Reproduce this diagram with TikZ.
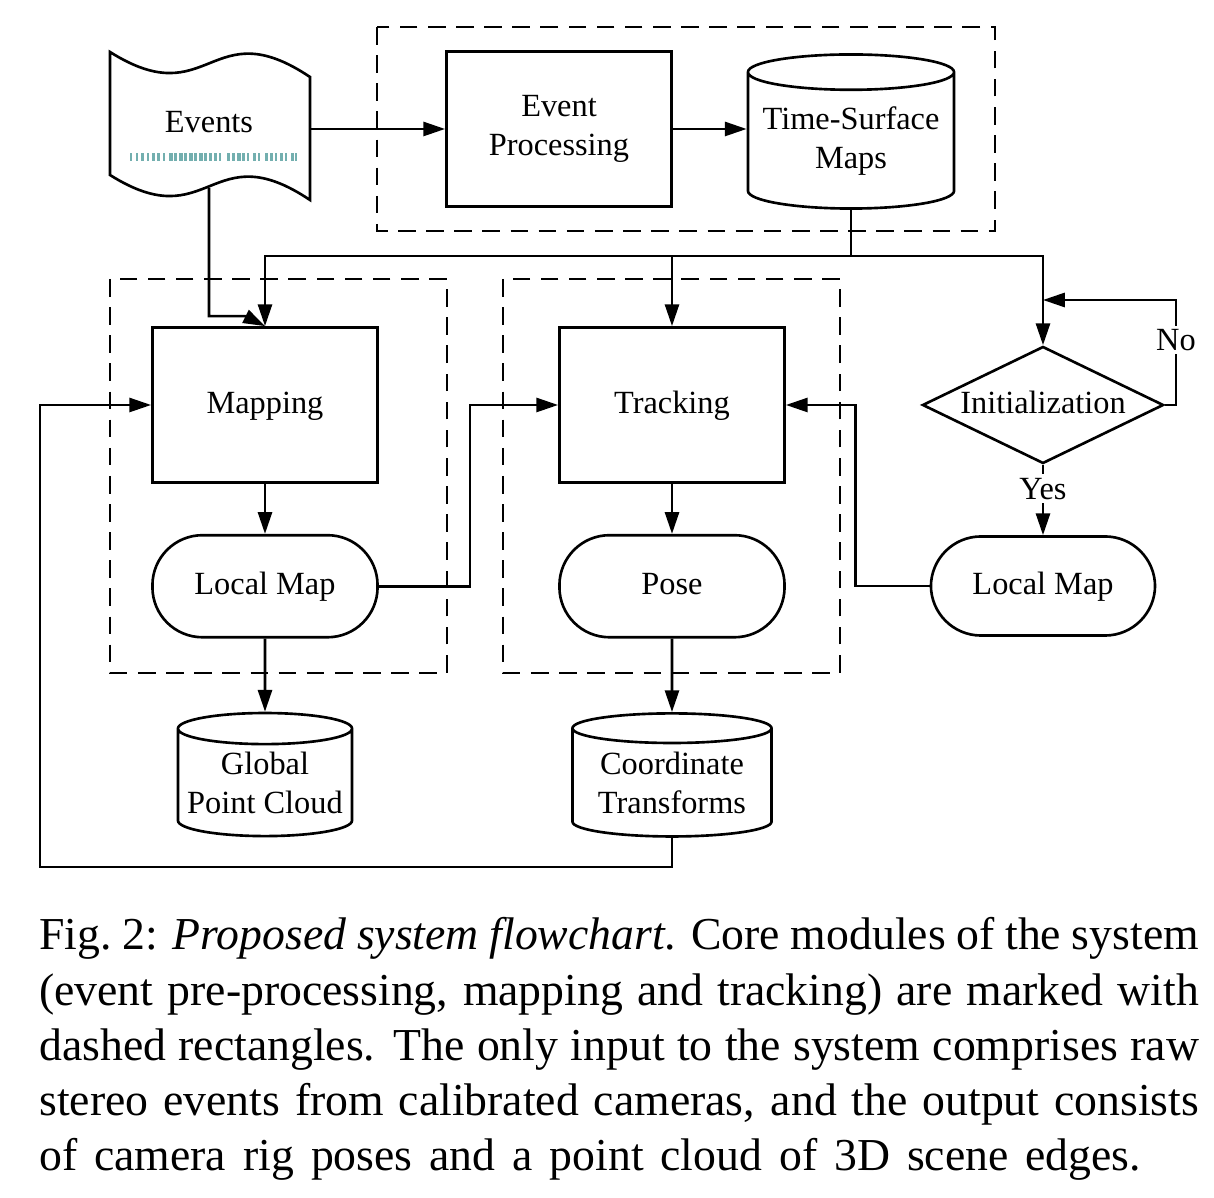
\documentclass[tikz,border=0pt]{standalone}
\usepackage{fontspec}
\setmainfont{Liberation Serif}
\usetikzlibrary{shapes.geometric}
\usetikzlibrary{arrows.meta}
\usetikzlibrary{positioning}

\definecolor{barcol}{RGB}{80,155,155}

\tikzset{
  process/.style={draw, rectangle, minimum width=2.25cm, minimum height=1.55cm, align=center, inner sep=0pt},
  store/.style={draw, cylinder, shape border rotate=90, aspect=0.2, align=center, inner sep=0pt},
  terminal/.style={draw, rectangle, rounded corners=0.5cm, minimum width=2.25cm, minimum height=1.02cm},
  decision/.style={draw, diamond, aspect=2.06, minimum width=2.41cm, minimum height=1.17cm, inner sep=0pt},
  oneline/.style={text height=6.8pt, text depth=2pt},
  module/.style={draw, dash pattern=on 5pt off 3pt},
  flow/.style={->},
  tag/.style={fill=white, inner sep=1pt},
}

\begin{document}
\begin{tikzpicture}[x=0.01cm, y=-0.01cm, >={Triangle[length=6.2pt, width=4pt]}, line width=0.75pt,
    font=\fontsize{9.2}{11.1}\selectfont]

        \useasboundingbox (0,0) rectangle (1214,1198);

        % Events input (tape)
        \draw (110,52) .. controls (210,115) and (210,10) .. (310,77) -- (310,200)
              .. controls (210,133) and (210,238) .. (110,175) -- cycle;
        \node (events) at (209,122) {Events};
        \foreach \x/\w in {130/2,136/2,141/3,147/2,152/3,157/3,163/2,
                           169/4,174/3,179/4,184/3,189/4,194/3,199/4,204/3,209/3,214/3,219/2,
                           227/3,232/3,237/4,242/3,247/2,253/3,258/2,
                           265/3,270/3,275/2,280/3,285/2,291/3,295/2}
            \fill[barcol, opacity=0.8] (\x,153) rectangle ++(\w,8);
        \coordinate (evout) at (310,129);
        \coordinate (evdown) at (209,188);

        % Pre-processing
        \node[process] (evproc) at (559,129) {Event\\Processing};
        \node[store, minimum width=2.06cm, minimum height=1.54cm] (tsmap) at (851,141) {Time-Surface\\Maps};

        % Mapping
        \node[process, oneline] (mapping) at (265,405) {Mapping};
        \node[terminal, oneline, below=0.5cm of mapping] (lmapL) {Local Map};
        \node[store, minimum width=1.74cm, minimum height=1.23cm] (cloud) at (265,783) {Global\\Point Cloud};

        % Tracking
        \node[process, oneline] (tracking) at (672,405) {Tracking};
        \node[terminal, oneline, below=0.5cm of tracking] (pose) {Pose};
        \node[store, minimum width=1.99cm, minimum height=1.23cm] (transf) at (672,783) {Coordinate\\Transforms};

        % Initialization
        \node[decision, oneline] (init) at (1043,405) {Initialization};
        \node[terminal, oneline, minimum width=2.24cm, minimum height=0.99cm] (lmapR) at (1043,586) {Local Map};

        % Modules
        \draw[module] (377,27) rectangle (995,231);
        \draw[module] (110,279) rectangle (447,673);
        \draw[module] (503,279) rectangle (840,673);

        % Connectors
        \coordinate (split) at (851,256);
        \coordinate (loopL) at (40,867);
        \coordinate (noturn) at (1176,300);
        \draw[flow] (evout) -- (evproc.west);
        \draw[flow] (evproc.east) -- (evproc.east -| tsmap.west);
        \draw (tsmap.south) -- (split);
        \draw[flow] (split) -| (mapping.north);
        \draw[flow] (split) -| (tracking.north);
        \draw[flow] (split) -| (init.north);
        \draw[flow] (evdown) |- ([xshift=-0.2cm, yshift=0.1cm]mapping.north) -- (mapping.north);
        \draw[flow] (mapping) -- (lmapL);
        \draw[flow] (lmapL) -- (cloud);
        \draw[flow] (tracking) -- (pose);
        \draw[flow] (pose) -- (transf);
        \draw[flow] (lmapL.east) -- ++(91,0) |- (tracking.west);
        \draw[flow] (lmapR.west) -- ++(-74,0) |- (tracking.east);
        \draw[flow] (transf.south) |- (loopL) |- (mapping.west);
        \draw[flow] (init.east) -| node[tag, pos=0.81] {No} (noturn) -- (init.north |- noturn);
        \draw[flow] (init.south) -- node[tag, pos=0.34] {Yes} (lmapR.north);

        % Caption
        \node[anchor=base west, text width=11.59cm, align=justify, inner sep=0pt,
              font=\fontsize{13}{15.65}\selectfont] (caption) at (38,950)
            {Fig.~2: \textit{Proposed system flowchart}. Core modules of the system\linebreak
             (event pre-processing, mapping and tracking) are marked with\linebreak
             dashed rectangles. The only input to the system comprises raw\linebreak
             stereo events from calibrated cameras, and the output consists\linebreak
             \makebox[11.01cm][s]{of camera rig poses and a point cloud of 3D scene edges.}};
        \end{tikzpicture}
\end{document}
